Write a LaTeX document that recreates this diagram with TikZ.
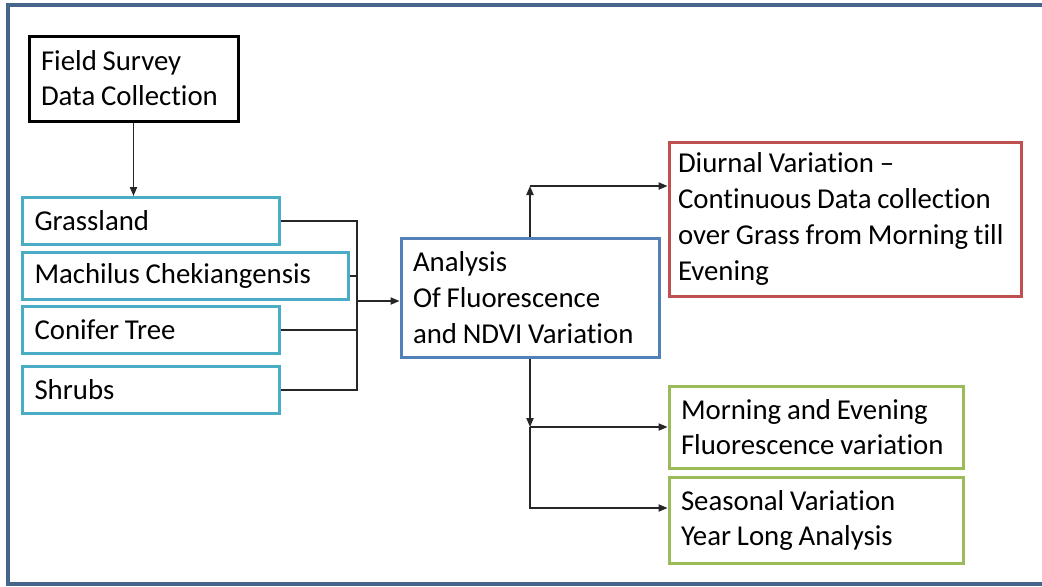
\documentclass[tikz,border=0pt]{standalone}
\usepackage{fontspec}
\setmainfont{Carlito}[Ligatures=NoCommon]
\usepackage{xcolor}
\usepackage{tikz}
\usetikzlibrary{arrows.meta,positioning,calc}
\definecolor{framecol}{HTML}{46658A}
\definecolor{tealcol}{HTML}{4BACC6}
\definecolor{bluecol}{HTML}{5281B8}
\definecolor{redcol}{HTML}{BE5050}
\definecolor{greencol}{HTML}{9BBB59}
\tikzset{
    frame/.style={draw=framecol,line width=2pt},
    box/.style={draw,line width=1.5pt,inner xsep=6pt,inner ysep=2pt,align=left,
        font=\fontsize{14.4}{17.5}\selectfont,
        execute at begin node={\spaceskip=0.2em\relax}},
    srcbox/.style={box,draw=black,minimum height=42.5pt,text width=92.5pt},
    site/.style={box,draw=tealcol,minimum height=23.5pt,text width=116.5pt},
    corebox/.style={box,draw=bluecol,minimum height=59.5pt,text width=117pt,
        font=\fontsize{14.4}{18}\selectfont},
    dayout/.style={box,draw=redcol,minimum height=77pt,inner xsep=4.5pt,text width=167pt,
        font=\fontsize{14.4}{18}\selectfont},
    seasout/.style={box,draw=greencol,text width=135pt},
    link/.style={draw=black!85,line width=0.7pt},
    arr/.style={link,-{Triangle[length=4.5pt,width=3.6pt]}}
}
\begin{document}
\begin{tikzpicture}[x=0.5pt,y=-0.5pt]
    \useasboundingbox (0,0) rectangle (1042,586);
    \draw[frame] (1042,5) -- (8,5) -- (8,584) -- (1042,584);

    % survey and sites
    \node[srcbox] (survey) at (133.5,78.5) {Field Survey\\Data Collection};
    \node[site,anchor=north west] (grass) at (21,196) {Grassland};
    \node[site,text width=151pt,below=2.5pt of grass.south west,anchor=north west] (mach) {Machilus Chekiangensis};
    \node[site,below=2pt of mach.south west,anchor=north west] (conif) {Conifer Tree};
    \node[site,below=5pt of conif.south west,anchor=north west] (shrub) {Shrubs};

    % analysis and outputs
    \node[corebox] (analysis) at (530,297.5) {Analysis\\Of Fluorescence\\and NDVI Variation};
    \node[dayout] (diurnal) at (845,219) {Diurnal Variation --\\Continuous Data collection\\over Grass from Morning till\\Evening};
    \node[seasout,minimum height=41pt] (morning) at (816,427) {Morning and Evening\\Fluorescence variation};
    \node[seasout,minimum height=43pt] (seasonal) at (816,520) {Seasonal Variation\\Year Long Analysis};

    \coordinate (merge) at (357,301);
    \coordinate (up) at (530,186);
    \coordinate (down) at (530,427);
    \coordinate (low) at (530,508);

    \draw[arr] (survey.south) -- (survey.south |- grass.north);
    \foreach \n in {grass,mach,conif,shrub}
        \draw[link] (\n.east) -| (merge);
    \draw[arr] (merge) -- (merge -| analysis.west);

    \draw[arr] (analysis.north) -- (up);
    \draw[arr] (up) -- (up -| diurnal.west);
    \draw[arr] (analysis.south) -- (down);
    \draw[arr] (down) -- (down -| morning.west);
    \draw[arr] (down) -- (low) -- (low -| seasonal.west);
\end{tikzpicture}
\end{document}
